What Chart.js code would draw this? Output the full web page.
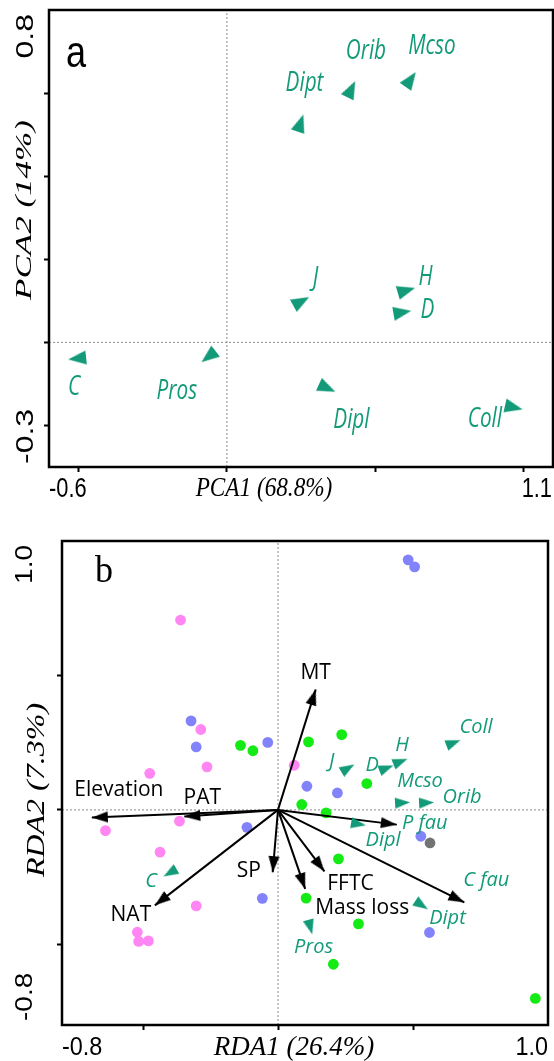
<!DOCTYPE html>
<html><head><meta charset="utf-8">
<script src="https://cdn.jsdelivr.net/npm/chart.js@4.4.1/dist/chart.umd.min.js"></script>
<style>
html,body{margin:0;padding:0;background:#fff;overflow:hidden;}
#wa{position:absolute;left:0;top:0;width:554px;height:510px;}
#wb{position:absolute;left:0;top:510px;width:554px;height:551px;}
</style></head>
<body>
<div id="wa"><canvas id="ca"></canvas></div>
<div id="wb"><canvas id="cb"></canvas></div>
<script>
// ---------- Panel a: PCA ----------
const pcaSpecies = ['Dipt','Orib','Mcso','J','H','D','C','Pros','Dipl','Coll'];
const pcaAxis1   = [0.245, 0.415, 0.614, 0.242, 0.596, 0.582, -0.495, -0.054, 0.329, 0.958];
const pcaAxis2   = [0.521, 0.603, 0.627, 0.095, 0.123, 0.071, -0.038, -0.030, -0.107, -0.155];
const pcaXRange  = [-0.6, 1.1];
const pcaYRange  = [-0.3, 0.8];
const pcaXTicks  = [-0.5, 0, 0.5, 1.0];
const pcaYTicks  = [-0.2, 0, 0.2, 0.4, 0.6];
const pcaXTitle  = 'PCA1 (68.8%)';
const pcaYTitle  = 'PCA2 (14%)';

// ---------- Panel b: RDA ----------
const rdaSpecies = ['Coll','H','D','J','Mcso','Orib','Dipl','Dipt','Pros','C'];
const rdaSpX     = [0.641, 0.445, 0.393, 0.251, 0.452, 0.541, 0.289, 0.524, 0.117, -0.392];
const rdaSpY     = [0.246, 0.176, 0.152, 0.150, 0.026, 0.026, -0.051, -0.349, -0.427, -0.229];
const envVars    = ['MT','Elevation','PAT','SP','NAT','FFTC','Mass loss','C fau','P fau'];
const envX       = [0.1395, -0.6895, -0.347, -0.0196, -0.456, 0.172, 0.1007, 0.690, 0.440];
const envY       = [0.448, -0.0287, -0.025, -0.232, -0.355, -0.229, -0.294, -0.344, -0.0548];
const sitesPinkX = [-0.361, -0.286, -0.263, -0.475, 0.060, -0.639, -0.365, -0.437, -0.303, -0.521, -0.516, -0.480];
const sitesPinkY = [0.706, 0.299, 0.160, 0.136, 0.166, -0.077, -0.042, -0.157, -0.357, -0.455, -0.489, -0.487];
const sitesBlueX = [0.482, 0.506, -0.322, -0.303, -0.038, 0.107, 0.220, -0.115, -0.058, 0.529, 0.561];
const sitesBlueY = [0.930, 0.904, 0.331, 0.234, 0.251, 0.088, 0.063, -0.065, -0.329, -0.098, -0.456];
const sitesGreenX = [-0.139, -0.093, 0.113, 0.236, 0.329, 0.088, 0.178, 0.224, 0.104, 0.298, 0.205, 0.953];
const sitesGreenY = [0.240, 0.220, 0.253, 0.280, 0.098, 0.020, -0.011, -0.182, -0.328, -0.424, -0.574, -0.701];
const sitesGrayX = [0.563];
const sitesGrayY = [-0.123];
const rdaXRange  = [-0.8, 1.0];
const rdaYRange  = [-0.8, 1.0];
const rdaXTicks  = [-0.5, 0, 0.5];
const rdaYTicks  = [-0.5, 0, 0.5];
const rdaXTitle  = 'RDA1 (26.4%)';
const rdaYTitle  = 'RDA2 (7.3%)';

// ---------- layout / style (not data) ----------
const TEAL = '#139a78';
const pcaLabelOff = [[5,-43],[16,-41],[23,-36],[17,-25],[22,-14],[28,-3],[-6,29],[-34,36],[27,33],[-26,12]];
const rdaSpLabelOff = [[25,-16],[4,-17],[-12,-4],[-14,-8],[20,-22],[38,-6],[27,17],[28,15],[4,23],[-21,10]];
const envLabelOff = [[0,-16],[27,-28],[18,-19],[-24,-1],[-24,10],[26,13],[57,19],[22,-22],[28,-1]];
const envLabelTeal = [false,false,false,false,false,false,false,true,true];

function makeHead(w, h, color, apexAtCenter) {
  const c = document.createElement('canvas');
  c.width = w; c.height = apexAtCenter ? 2*h : Math.round(4*h/3);
  const g = c.getContext('2d');
  const y0 = apexAtCenter ? h : 0;
  g.fillStyle = color;
  g.beginPath(); g.moveTo(w/2, y0); g.lineTo(w, y0+h); g.lineTo(0, y0+h); g.closePath(); g.fill();
  return c;
}
const headA = makeHead(14, 18, TEAL, false);
const headB = makeHead(11, 15, TEAL, false);
const headBlack = makeHead(11, 16, '#000', true);

function dirRotation(ctx) {
  if (ctx.type !== 'data' || !ctx.raw) return 0;
  const xs = ctx.chart.scales.x, ys = ctx.chart.scales.y;
  const dx = xs.getPixelForValue(ctx.raw.x) - xs.getPixelForValue(0);
  const dy = ys.getPixelForValue(ctx.raw.y) - ys.getPixelForValue(0);
  return Math.atan2(dx, -dy) * 180 / Math.PI;
}

function pts(xs, ys) { return xs.map((v, i) => ({x: v, y: ys[i]})); }

function drawText(ctx, str, x, y, o) {
  ctx.save();
  ctx.translate(x, y);
  ctx.scale(o.sx || 1, o.sy || 1);
  if (o.rot) ctx.rotate(o.rot);
  ctx.font = o.font;
  ctx.fillStyle = o.color || '#000';
  ctx.textAlign = o.align || 'center';
  ctx.textBaseline = o.baseline || 'middle';
  ctx.fillText(str, 0, 0);
  ctx.restore();
}

function axisScale(range, ticks, horizontal) {
  return {
    type: 'linear', min: range[0], max: range[1],
    afterBuildTicks: s => { s.ticks = ticks.map(v => ({value: v})); },
    afterFit: s => { if (horizontal) s.height = 0; else s.width = 0; },
    ticks: { display: false },
    grid: { drawOnChartArea: false, drawTicks: true, tickLength: 5, tickWidth: 2, tickColor: '#000' },
    border: { display: false }
  };
}

function zeroLines(xr, yr) {
  return [
    { type: 'scatter', showLine: true, data: [{x: xr[0], y: 0}, {x: xr[1], y: 0}],
      borderColor: '#8a8a8a', borderWidth: 1, borderDash: [2, 2], pointRadius: 0 },
    { type: 'scatter', showLine: true, data: [{x: 0, y: yr[0]}, {x: 0, y: yr[1]}],
      borderColor: '#8a8a8a', borderWidth: 1, borderDash: [2, 2], pointRadius: 0 }
  ];
}

const framePlugin = {
  id: 'frame',
  afterDatasetsDraw(chart) {
    const a = chart.chartArea, ctx = chart.ctx;
    ctx.save(); ctx.strokeStyle = '#000'; ctx.lineWidth = 2.5;
    ctx.strokeRect(a.left, a.top, a.right - a.left, a.bottom - a.top);
    ctx.restore();
  }
};

// ---------- Chart a ----------
const labelsA = {
  id: 'labelsA',
  afterDraw(chart) {
    const ctx = chart.ctx, a = chart.chartArea;
    const xs = chart.scales.x, ys = chart.scales.y;
    pcaSpecies.forEach((n, i) => {
      const px = xs.getPixelForValue(pcaAxis1[i]) + pcaLabelOff[i][0];
      const py = ys.getPixelForValue(pcaAxis2[i]) + pcaLabelOff[i][1];
      drawText(ctx, n, px, py, {font: 'italic 28px "Open Sans"', color: TEAL, sx: 0.74});
    });
    drawText(ctx, 'a', 76, 55, {font: '44px "Liberation Sans"', sx: 0.82});
    const tf = '28px "Liberation Sans"';
    drawText(ctx, pcaXRange[0].toFixed(1), a.left, 489, {font: tf, sx: 0.78, align: 'left'});
    drawText(ctx, pcaXRange[1].toFixed(1), a.right - 1, 489, {font: tf, sx: 0.78, align: 'right'});
    drawText(ctx, pcaXTitle, 264, 489, {font: 'italic 27px "Liberation Serif"', sx: 0.86});
    drawText(ctx, pcaYRange[1].toFixed(1), 26, a.top + 4, {font: '32px "Liberation Sans"', sx: 0.76, rot: -Math.PI/2, align: 'right'});
    drawText(ctx, pcaYRange[0].toFixed(1), 26, a.bottom - 3, {font: '32px "Liberation Sans"', sx: 0.76, rot: -Math.PI/2, align: 'left'});
    drawText(ctx, pcaYTitle, 25, 210, {font: 'italic 35px "Liberation Serif"', sx: 0.65, rot: -Math.PI/2});
  }
};

new Chart(document.getElementById('ca'), {
  type: 'scatter',
  data: { datasets: [
    { data: pts(pcaAxis1, pcaAxis2), pointStyle: headA, pointRadius: 6, rotation: dirRotation,
      pointBackgroundColor: TEAL, pointBorderWidth: 0 },
    ...zeroLines(pcaXRange, pcaYRange)
  ]},
  options: {
    animation: false, responsive: true, maintainAspectRatio: false,
    layout: { autoPadding: false, padding: { left: 49, right: 1, top: 10, bottom: 43 } },
    plugins: { legend: { display: false }, tooltip: { enabled: false } },
    scales: { x: axisScale(pcaXRange, pcaXTicks, true), y: axisScale(pcaYRange, pcaYTicks, false) }
  },
  plugins: [framePlugin, labelsA]
});

// ---------- Chart b ----------
const labelsB = {
  id: 'labelsB',
  afterDraw(chart) {
    const ctx = chart.ctx, a = chart.chartArea;
    const xs = chart.scales.x, ys = chart.scales.y;
    rdaSpecies.forEach((n, i) => {
      const px = xs.getPixelForValue(rdaSpX[i]) + rdaSpLabelOff[i][0];
      const py = ys.getPixelForValue(rdaSpY[i]) + rdaSpLabelOff[i][1];
      drawText(ctx, n, px, py, {font: 'italic 20px "Open Sans"', color: TEAL});
    });
    envVars.forEach((n, i) => {
      const px = xs.getPixelForValue(envX[i]) + envLabelOff[i][0];
      const py = ys.getPixelForValue(envY[i]) + envLabelOff[i][1];
      if (envLabelTeal[i]) drawText(ctx, n, px, py, {font: 'italic 20px "Open Sans"', color: TEAL});
      else drawText(ctx, n, px, py, {font: '21px "Open Sans"', color: '#000'});
    });
    drawText(ctx, 'b', 104, 62, {font: '38px "Liberation Serif"', sx: 0.95});
    const tf = '26px "Liberation Sans"';
    drawText(ctx, rdaXRange[0].toFixed(1), a.left, 538, {font: tf, sx: 0.9, align: 'left'});
    drawText(ctx, rdaXRange[1].toFixed(1), a.right, 538, {font: tf, sx: 0.9, align: 'right'});
    drawText(ctx, rdaXTitle, 294, 538, {font: 'italic 27px "Liberation Serif"'});
    drawText(ctx, rdaYRange[1].toFixed(1), 25, a.top + 4, {font: '28px "Liberation Sans"', sx: 0.85, rot: -Math.PI/2, align: 'right'});
    drawText(ctx, rdaYRange[0].toFixed(1), 25, a.bottom - 4, {font: '28px "Liberation Sans"', sx: 0.85, rot: -Math.PI/2, align: 'left'});
    drawText(ctx, rdaYTitle, 37, 280, {font: 'italic 32px "Liberation Serif"', sx: 0.8, rot: -Math.PI/2});
  }
};

const envDatasets = envVars.map((n, i) => ({
  showLine: true, data: [{x: 0, y: 0}, {x: envX[i], y: envY[i]}],
  borderColor: '#000', borderWidth: 2, pointStyle: headBlack, pointRadius: [0, 6],
  rotation: dirRotation, pointBackgroundColor: '#000', pointBorderWidth: 0
}));

function dots(xs, ys, color) {
  return { data: pts(xs, ys), pointRadius: 5.4, pointBackgroundColor: color, pointBorderWidth: 0 };
}

new Chart(document.getElementById('cb'), {
  type: 'scatter',
  data: { datasets: [
    { data: pts(rdaSpX, rdaSpY), pointStyle: headB, pointRadius: 6, rotation: dirRotation,
      pointBackgroundColor: TEAL, pointBorderWidth: 0 },
    ...envDatasets,
    dots(sitesGrayX, sitesGrayY, '#737373'),
    dots(sitesGreenX, sitesGreenY, '#14ea14'),
    dots(sitesBlueX, sitesBlueY, '#8282fa'),
    dots(sitesPinkX, sitesPinkY, '#ff86f3'),
    ...zeroLines(rdaXRange, rdaYRange)
  ]},
  options: {
    animation: false, responsive: true, maintainAspectRatio: false,
    layout: { autoPadding: false, padding: { left: 62, right: 6, top: 31, bottom: 36 } },
    plugins: { legend: { display: false }, tooltip: { enabled: false } },
    scales: { x: axisScale(rdaXRange, rdaXTicks, true), y: axisScale(rdaYRange, rdaYTicks, false) }
  },
  plugins: [framePlugin, labelsB]
});
</script>
</body></html>
